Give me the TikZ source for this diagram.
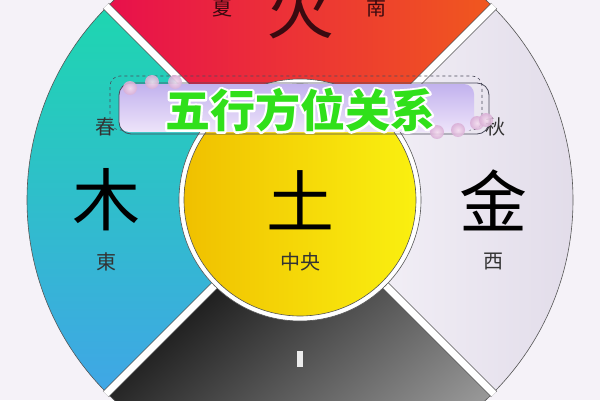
\documentclass[tikz,border=0pt]{standalone}
\usepackage{fontspec}
\newfontfamily\cjk{Noto Sans CJK SC}
\newcommand\whiteedge[1]{\special{pdf:literal direct q 1 1 1 RG 4.5 w 1 j 1 Tr}#1\special{pdf:literal direct Q}}
\definecolor{bgc}{HTML}{F5F2F8}
\definecolor{segline}{HTML}{555555}
\definecolor{firel}{HTML}{E8104C}
\definecolor{firer}{HTML}{F0581E}
\definecolor{firetxt}{HTML}{3A0A10}
\definecolor{woodt}{HTML}{1ED6B0}
\definecolor{woodm}{HTML}{A0E4EA}
\definecolor{woodb}{HTML}{40A6E6}
\definecolor{metall}{HTML}{F8F6FB}
\definecolor{metalr}{HTML}{E0DAE8}
\definecolor{earthl}{HTML}{F0C000}
\definecolor{earthr}{HTML}{FAF010}
\definecolor{smalltxt}{HTML}{333333}
\definecolor{bannert}{HTML}{C2B2EE}
\definecolor{bannerb}{HTML}{EEE4FA}
\definecolor{bannerline}{HTML}{4A4A5A}
\definecolor{titlegreen}{HTML}{30E01A}
\definecolor{bubblein}{HTML}{F4DDEF}
\definecolor{bubbleout}{HTML}{D9AFD6}

\begin{document}
\begin{tikzpicture}[x=1pt,y=1pt,
    seg/.style={draw=segline,line width=0.6pt},
    gap/.style={draw=segline,line width=0.6pt,double=white,double distance=7pt},
    big/.style={font=\cjk\fontsize{68}{68}\selectfont,inner sep=0pt},
    small/.style={font=\cjk\fontsize{20}{20}\selectfont,text=smalltxt,inner sep=0pt},
    bubble/.style={circle,inner sep=0pt,minimum size=14pt,inner color=bubblein,outer color=bubbleout,opacity=0.9}]
  \useasboundingbox (0,0) rectangle (600,400);
  \fill[bgc] (0,0) rectangle (600,400);
  \coordinate (O) at (300,200);
  \shade[left color=firel, right color=firer] (O) -- ([shift={(45:273)}]O) arc[start angle=45, end angle=135, radius=273] -- cycle;
  \shade[top color=woodt, middle color=woodm, bottom color=woodb] (O) -- ([shift={(135:273)}]O) arc[start angle=135, end angle=225, radius=273] -- cycle;
  \shade[top color=black, bottom color=black!38, shading angle=40] (O) -- ([shift={(225:273)}]O) arc[start angle=225, end angle=315, radius=273] -- cycle;
  \shade[left color=metall, right color=metalr] (O) -- ([shift={(-45:273)}]O) arc[start angle=-45, end angle=45, radius=273] -- cycle;
  \draw[seg] (O) circle (273);
  \begin{scope}
    \clip (O) circle (274.5);
    \draw[gap] ([shift={(45:280)}]O) -- ([shift={(225:280)}]O);
    \draw[gap] ([shift={(135:280)}]O) -- ([shift={(-45:280)}]O);
  \end{scope}
  \draw[seg,fill=white] (O) circle (121);
  \shade[seg,left color=earthl,right color=earthr] (O) circle (116);

  \node[big,text=firetxt] (huo) at (300,392) {火};
  \node[small,text=firetxt] (xia) at (222,392) {夏};
  \node[small,text=firetxt] (nan) at (376,392) {南};
  \node[big] (mu) at (106,200) {木};
  \node[small] (chun) at (105,273) {春};
  \node[small] (dong) at (106,138) {東};
  \node[big] (tu) at (300,200) {土};
  \node[small] (zhongyang) at (300,138) {中央};
  \node[big] (jin) at (493,200) {金};
  \node[small] (qiu) at (495,273) {秋};
  \node[small] (xi) at (493,138) {西};
  \node[fill=white!85!gray,inner sep=0pt,minimum width=6pt,minimum height=16pt] (bei) at (300,41) {};

  \draw[bannerline,dashed,line width=0.6pt,rounded corners=10] (110,270) rectangle (482,324);
  \shade[top color=bannert,bottom color=bannerb,rounded corners=10] (119,268) rectangle (474,316);
  \draw[bannerline,line width=0.8pt,rounded corners=12] (119,266) rectangle (489,317);
  \node[bubble] (b1) at (130,312) {};
  \node[bubble] (b2) at (152,318) {};
  \node[bubble] (b3) at (175,318) {};
  \node[bubble] (b4) at (437,268) {};
  \node[bubble] (b5) at (458,270) {};
  \node[bubble] (b6) at (477,277) {};
  \node[bubble] (b7) at (486,280) {};
  \node[font=\cjk\bfseries\fontsize{45}{45}\selectfont,text=titlegreen] (title) at (300,290) {\rlap{\whiteedge{五行方位关系}}五行方位关系};
\end{tikzpicture}
\end{document}
